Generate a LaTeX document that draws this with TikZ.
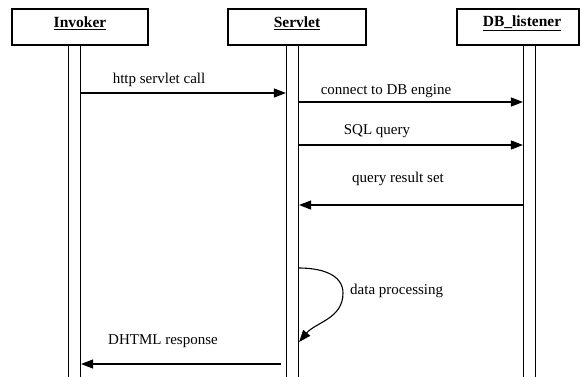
\documentclass[tikz,border=0pt]{standalone}
\usepackage{fontspec}
\setmainfont{Liberation Serif}
\usetikzlibrary{arrows.meta}
\begin{document}
\begin{tikzpicture}[x=1pt,y=-1pt,
  header/.style={draw,line width=1.1pt,minimum height=36pt,inner sep=0pt},
  htext/.style={font=\fontsize{15.5}{17}\selectfont\bfseries},
  life/.style={draw,line width=1.1pt,minimum width=12pt,minimum height=340pt,inner sep=0pt,anchor=north},
  msg/.style={line width=1.1pt,-{Triangle[length=12pt,width=9pt]}},
  mtext/.style={font=\fontsize{15}{17}\selectfont,inner sep=0pt}]
\clip (0,0) rectangle (581,376);
% header boxes
\node[header,minimum width=136pt] (invH) at (80,27) {};
\node[header,minimum width=138pt] (srvH) at (297,27) {};
\node[header,minimum width=122pt] (dbH) at (518,27) {};
\node[htext] (invT) at (80,23) {\underline{Invoker}};
\node[htext] (srvT) at (297,23) {\underline{Servlet}};
\node[htext] (dbT) at (522,23) {\underline{DB\_listener}};
% lifelines
\node[life] (invL) at (74.5,45) {};
\node[life] (srvL) at (292.5,45) {};
\node[life] (dbL) at (529.5,45) {};
% messages
\coordinate (m1) at (0,93);
\draw[msg] (invL.east |- m1) -- (srvL.west |- m1);
\node[mtext] (t1) at (159,80) {http servlet call};
\coordinate (m2) at (0,102);
\draw[msg] (srvL.east |- m2) -- (dbL.west |- m2);
\node[mtext] (t2) at (386,91) {connect to DB engine};
\coordinate (m3) at (0,145);
\draw[msg] (srvL.east |- m3) -- (dbL.west |- m3);
\node[mtext] (t3) at (377,131) {SQL query};
\coordinate (m4) at (0,205);
\draw[msg] (dbL.west |- m4) -- (srvL.east |- m4);
\node[mtext] (t4) at (398,179) {query result set};
% self call
\coordinate (s1) at (0,268);
\coordinate (s2) at (0,342);
\draw[msg] (srvL.east |- s1) to[out=0,in=90] (343,293) to[out=-90,in=50] (srvL.east |- s2);
\node[mtext,anchor=west] (t5) at (350,291) {data processing};
% response
\coordinate (m6) at (0,364);
\coordinate (m6s) at (281,364);
\draw[msg] (m6s) -- (invL.east |- m6);
\node[mtext,anchor=west] (t6) at (108,341) {DHTML response};
\end{tikzpicture}
\end{document}
